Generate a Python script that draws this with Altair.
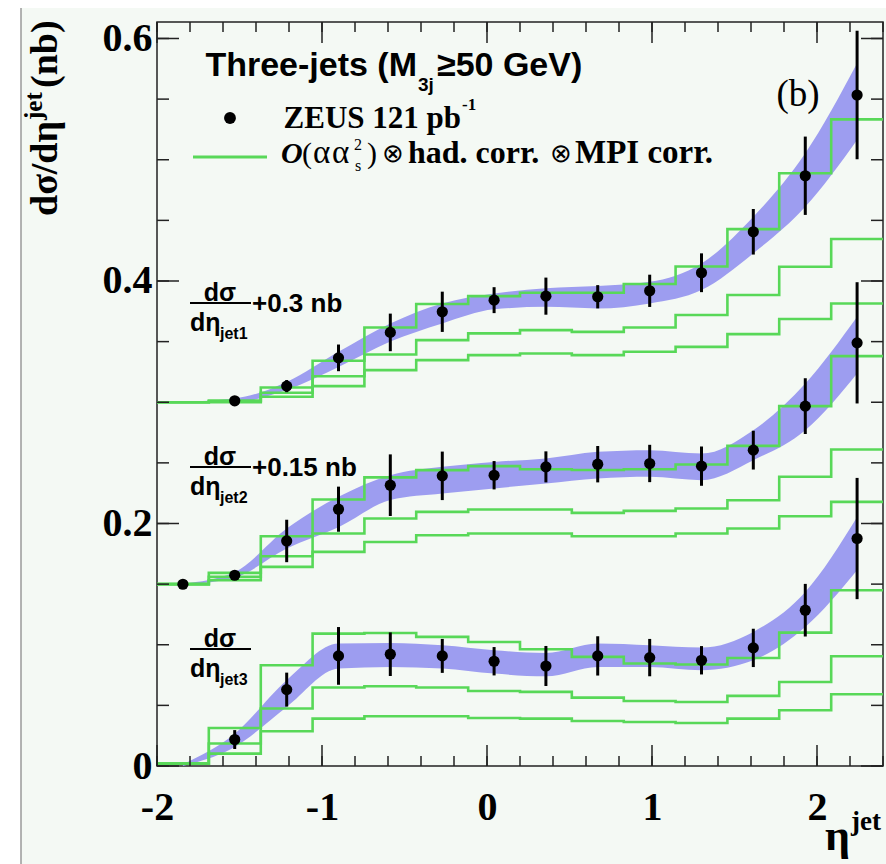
import altair as alt
import pandas as pd

# ---------------- data (values as plotted, offsets included) ----------------
edges = [-2.0, -1.686, -1.371, -1.057, -0.743, -0.429, -0.114, 0.2, 0.514,
         0.829, 1.143, 1.457, 1.771, 2.086, 2.4]
centers = [-1.843, -1.529, -1.214, -0.9, -0.586, -0.271, 0.043, 0.357, 0.671,
           0.986, 1.3, 1.614, 1.929, 2.243]

# jet1 (+0.3 nb)
jet1_pts = [None, 0.3012, 0.3133, 0.3366, 0.3576, 0.3746, 0.3842, 0.3875, 0.3870,
            0.3919, 0.4068, 0.4406, 0.4868, 0.5534]
jet1_err = [None, 0.002, 0.005, 0.011, 0.0155, 0.0166, 0.0107, 0.0153, 0.0096,
            0.0133, 0.016, 0.0188, 0.0323, 0.053]
jet1_band_lo = [0.2995, 0.300, 0.310, 0.329, 0.350, 0.365, 0.3766, 0.3787, 0.3774,
                0.3815, 0.3925, 0.4228, 0.4612, 0.5163]
jet1_band_hi = [0.3005, 0.3031, 0.3168, 0.3416, 0.365, 0.3815, 0.3897, 0.394, 0.3958,
                0.3993, 0.4145, 0.453, 0.5053, 0.5795]
jet1_th_a = [0.300, 0.3015, 0.3122, 0.3342, 0.3617, 0.381, 0.3875, 0.3903, 0.3903,
             0.3975, 0.412, 0.4428, 0.4888, 0.5333]
jet1_th_b = [0.300, 0.3008, 0.3078, 0.3215, 0.3394, 0.3512, 0.3568, 0.3595, 0.358,
             0.3617, 0.3719, 0.3884, 0.4117, 0.4346]
jet1_th_c = [0.300, 0.300, 0.3045, 0.3133, 0.3265, 0.3347, 0.3389, 0.3402, 0.3389,
             0.3416, 0.3457, 0.3562, 0.3686, 0.3815]

# jet2 (+0.15 nb)
jet2_pts = [0.1499, 0.1573, 0.1856, 0.2118, 0.2316, 0.2393, 0.2398, 0.2467, 0.2489,
            0.2495, 0.2473, 0.2605, 0.2968, 0.349]
jet2_err = [0.001, 0.003, 0.0175, 0.0186, 0.0254, 0.02, 0.0117, 0.0128, 0.015,
            0.0154, 0.0162, 0.016, 0.023, 0.05]
jet2_band_lo = [0.1495, 0.1554, 0.1794, 0.197, 0.2193, 0.2247, 0.2289, 0.233, 0.2371,
                0.2385, 0.2357, 0.2522, 0.277, 0.3238]
jet2_band_hi = [0.1505, 0.1601, 0.1959, 0.222, 0.2398, 0.2467, 0.2508, 0.2536, 0.2591,
                0.2605, 0.2577, 0.277, 0.3155, 0.3705]
jet2_th_a = [0.150, 0.1593, 0.1895, 0.2198, 0.238, 0.244, 0.2473, 0.2448, 0.2441,
             0.2448, 0.2487, 0.264, 0.2968, 0.338]
jet2_th_b = [0.150, 0.156, 0.173, 0.1917, 0.2041, 0.2096, 0.2116, 0.2116, 0.2088,
             0.2104, 0.2124, 0.2192, 0.2385, 0.261]
jet2_th_c = [0.150, 0.1532, 0.1642, 0.1766, 0.1848, 0.1903, 0.1917, 0.1917, 0.1895,
             0.1895, 0.1917, 0.1959, 0.206, 0.2178]

# jet3
jet3_pts = [None, 0.0218, 0.063, 0.0908, 0.0922, 0.0908, 0.0864, 0.0825, 0.0908,
            0.0894, 0.0872, 0.0974, 0.1285, 0.1876]
jet3_err = [None, 0.0078, 0.014, 0.0238, 0.018, 0.014, 0.0117, 0.0165, 0.0162,
            0.0154, 0.0117, 0.0158, 0.0217, 0.05]
jet3_band_lo = [0.0, 0.0157, 0.0487, 0.0804, 0.0817, 0.0804, 0.0762, 0.074, 0.0817,
                0.0817, 0.079, 0.0872, 0.1147, 0.1615]
jet3_band_hi = [0.0015, 0.0267, 0.0707, 0.101, 0.1015, 0.0996, 0.0955, 0.0932, 0.101,
                0.0996, 0.0977, 0.1106, 0.1436, 0.2054]
jet3_th_a = [0.002, 0.0314, 0.0831, 0.1092, 0.1097, 0.1065, 0.1023, 0.0963, 0.09,
             0.0845, 0.0837, 0.0891, 0.11, 0.145]
jet3_th_b = [0.002, 0.0185, 0.0474, 0.0647, 0.0658, 0.0647, 0.0619, 0.0611, 0.0564,
             0.0536, 0.0528, 0.0578, 0.0693, 0.0905]
jet3_th_c = [0.002, 0.0102, 0.0286, 0.0391, 0.041, 0.041, 0.0396, 0.0391, 0.0371,
             0.0363, 0.0355, 0.0391, 0.046, 0.0592]

x_tick_labels = [-2, -1, 0, 1, 2]
y_tick_labels = [0, 0.2, 0.4, 0.6]
x_minor = [-2.0, -1.8, -1.6, -1.4, -1.2, -1.0, -0.8, -0.6, -0.4, -0.2, 0.0, 0.2, 0.4,
           0.6, 0.8, 1.0, 1.2, 1.4, 1.6, 1.8, 2.0, 2.2, 2.4]
y_minor = [0.0, 0.05, 0.1, 0.15, 0.2, 0.25, 0.3, 0.35, 0.4, 0.45, 0.5, 0.55, 0.6]

# ---------------- tables ----------------
groups = {
    "jet1": (jet1_pts, jet1_err, jet1_band_lo, jet1_band_hi, [jet1_th_a, jet1_th_b, jet1_th_c]),
    "jet2": (jet2_pts, jet2_err, jet2_band_lo, jet2_band_hi, [jet2_th_a, jet2_th_b, jet2_th_c]),
    "jet3": (jet3_pts, jet3_err, jet3_band_lo, jet3_band_hi, [jet3_th_a, jet3_th_b, jet3_th_c]),
}
pt_rows, band_rows, th_rows = [], [], []
for g, (pts, err, blo, bhi, ths) in groups.items():
    for i, c in enumerate(centers):
        band_rows.append({"g": g, "x": c, "lo": blo[i], "hi": bhi[i]})
        if pts[i] is not None:
            pt_rows.append({"g": g, "x": c, "y": pts[i], "lo": pts[i] - err[i], "hi": pts[i] + err[i]})
    for k, th in enumerate(ths):
        vals = th + [th[-1]]
        for e, v in zip(edges, vals):
            th_rows.append({"line": f"{g}_{k}", "x": e, "y": v})
pts_df = pd.DataFrame(pt_rows)
band_df = pd.DataFrame(band_rows)
th_df = pd.DataFrame(th_rows)
one = pd.DataFrame({"a": [0]})

# ---------------- layout ----------------
OFF, TOP = 157, 22
W, H = 726, 744
BG = "#f4f9f4"
GREEN = "#58d858"
BAND = "#9d9df0"
SANS = "Liberation Sans"
SERIF = "Liberation Serif"

xs = alt.Scale(domain=[-2, 2.4], nice=False, zero=False)
ys = alt.Scale(domain=[0, 0.6136], nice=False, zero=False)

xaxis = alt.Axis(values=x_tick_labels, ticks=False, domain=False, grid=False,
                 labelFont=SERIF, labelFontWeight="bold", labelFontSize=40,
                 labelColor="black", labelPadding=21, labelFlush=False,
                 labelExpr="datum.value < 0 ? '-' + format(-datum.value, 'd') : format(datum.value, 'd')",
                 title=None)
yaxis = alt.Axis(values=y_tick_labels, ticks=False, domain=False, grid=False,
                 labelFont=SERIF, labelFontWeight="bold", labelFontSize=40,
                 labelColor="black", labelPadding=5,
                 labelExpr="datum.value == 0 ? '0' : format(datum.value, '.1f')",
                 title=None)


def X(field):
    return alt.X(field, scale=xs, axis=xaxis)


def Y(field, **kw):
    return alt.Y(field, scale=ys, axis=yaxis, **kw)


layers = []

# white margins of the picture
layers.append(alt.Chart(one).mark_rect(fill="white").encode(
    x=alt.value(-OFF), x2=alt.value(W + 10), y=alt.value(-TOP), y2=alt.value(8 - TOP)))
layers.append(alt.Chart(one).mark_rect(fill="white").encode(
    x=alt.value(-OFF), x2=alt.value(21 - OFF), y=alt.value(-TOP), y2=alt.value(H + 110)))
layers.append(alt.Chart(one).mark_rule(color="#9a9a9a", strokeWidth=1.5).encode(
    x=alt.value(21 - OFF), y=alt.value(8 - TOP), y2=alt.value(H + 110)))

# theory band
layers.append(alt.Chart(band_df).mark_area(color=BAND, interpolate="monotone", opacity=1).encode(
    x=X("x:Q"), y=Y("lo:Q", stack=None), y2="hi:Q", detail="g:N"))

# green step histograms
layers.append(alt.Chart(th_df).mark_line(color=GREEN, strokeWidth=2.6, interpolate="step-after").encode(
    x=X("x:Q"), y=Y("y:Q"), detail="line:N"))

# error bars and points
layers.append(alt.Chart(pts_df).mark_rule(color="black", strokeWidth=3).encode(
    x=X("x:Q"), y=Y("lo:Q"), y2="hi:Q"))
layers.append(alt.Chart(pts_df).mark_circle(color="black", size=125, opacity=1).encode(
    x=X("x:Q"), y=Y("y:Q")))

# ticks (inside, ROOT style)
xmin_df = pd.DataFrame({"v": x_minor})
xmaj_df = pd.DataFrame({"v": x_tick_labels})
ymin_df = pd.DataFrame({"v": y_minor})
ymaj_df = pd.DataFrame({"v": y_tick_labels})
TK = "#222222"
for df, ln in [(xmin_df, 10), (xmaj_df, 21)]:
    layers.append(alt.Chart(df).mark_rule(color=TK, strokeWidth=1.5).encode(
        x=X("v:Q"), y=alt.value(H), y2=alt.value(H - ln)))
    layers.append(alt.Chart(df).mark_rule(color=TK, strokeWidth=1.5).encode(
        x=X("v:Q"), y=alt.value(0), y2=alt.value(ln)))
for df, ln in [(ymin_df, 12), (ymaj_df, 22)]:
    layers.append(alt.Chart(df).mark_rule(color=TK, strokeWidth=1.5).encode(
        y=Y("v:Q"), x=alt.value(0), x2=alt.value(ln)))
    layers.append(alt.Chart(df).mark_rule(color=TK, strokeWidth=1.5).encode(
        y=Y("v:Q"), x=alt.value(W), x2=alt.value(W - ln)))


def txt(s, x, y, size, font=SANS, weight="bold", style="normal", align="left",
        angle=0, baseline="alphabetic"):
    kw = dict(text=s, font=font, fontSize=size, fontWeight=weight, fontStyle=style,
              align=align, baseline=baseline, color="black")
    if angle:
        kw["angle"] = angle
    return alt.Chart(one).mark_text(**kw).encode(x=alt.value(x - OFF), y=alt.value(y - TOP))


def hline(x1, x2, y, color="black", width=2):
    return alt.Chart(one).mark_rule(color=color, strokeWidth=width).encode(
        x=alt.value(x1 - OFF), x2=alt.value(x2 - OFF), y=alt.value(y - TOP))


# header
layers.append(txt("Three-jets (M", 417, 76, 34, align="right"))
layers.append(txt("3j", 418, 91, 19))
layers.append(txt("≥50 GeV)", 437, 76, 34))
layers.append(txt("(b)", 798, 106, 37, font=SERIF, weight="normal", align="center"))

# legend
layers.append(alt.Chart(one).mark_circle(color="black", size=140, opacity=1).encode(
    x=alt.value(230 - OFF), y=alt.value(118 - TOP)))
layers.append(txt("ZEUS 121 pb", 461, 128, 31, font=SERIF, align="right"))
layers.append(txt("-1", 462, 110, 17, font=SERIF))
layers.append(hline(193, 267, 157, color=GREEN, width=3))
layers.append(txt("O", 281, 163, 30, font=SERIF, style="italic"))
layers.append(txt("(", 302, 163, 30, font=SERIF, weight="normal"))
layers.append(txt("α", 313, 163, 33, font=SERIF, weight="normal"))
layers.append(txt("α", 332, 163, 33, font=SERIF, weight="normal"))
layers.append(txt("2", 354, 150, 16, font=SERIF, weight="normal"))
layers.append(txt("s", 355, 171, 16, font=SERIF, weight="normal"))
layers.append(txt(")", 367, 163, 30, font=SERIF, weight="normal"))
layers.append(txt("⊗", 382, 162, 26, font=SERIF, weight="normal"))
layers.append(txt("had. corr.", 408, 163, 32, font=SERIF))
layers.append(txt("⊗", 550, 162, 26, font=SERIF, weight="normal"))
layers.append(txt("MPI corr.", 575, 163, 33, font=SERIF))

# fraction labels
for L, sub, extra in [(303, "jet1", "+0.3 nb"), (467, "jet2", "+0.15 nb"), (649, "jet3", "")]:
    layers.append(txt("dσ", 220, L - 2, 25, align="center"))
    layers.append(hline(190, 251, L, width=2))
    layers.append(txt("dη", 190, L + 28, 25))
    layers.append(txt(sub, 220, L + 36, 16))
    if extra:
        layers.append(txt(extra, 252, L + 9, 26))

# axis titles
layers.append(txt("dσ/dη", 57, 216, 38, font=SERIF, angle=270))
layers.append(txt("jet", 42, 120, 25, font=SERIF, angle=270))
layers.append(txt("(nb)", 57, 88, 38, font=SERIF, angle=270))
layers.append(txt("η", 825, 850, 44, font=SERIF))
layers.append(txt("jet", 851, 830, 27, font=SERIF))

chart = alt.layer(*layers).properties(
    width=W, height=H,
    padding={"left": OFF, "top": TOP, "right": 886 - OFF - W, "bottom": 864 - TOP - H},
    autosize=alt.AutoSizeParams(type="none"),
).configure(background=BG).configure_view(stroke="#222222", strokeWidth=1.5)

chart.save("out.html", embed_options={"renderer": "svg", "actions": False})
